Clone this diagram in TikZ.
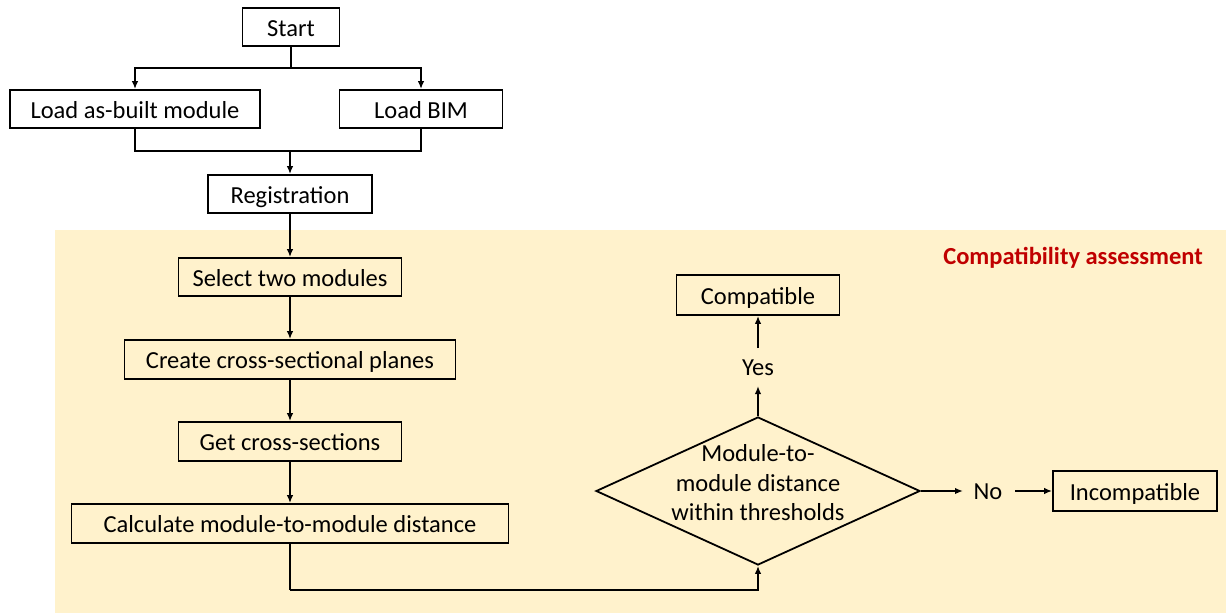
\documentclass[tikz,border=0pt]{standalone}
\usepackage{fontspec}
\setmainfont{Carlito}
\usetikzlibrary{shapes.geometric,arrows.meta}
\definecolor{bgbeige}{HTML}{FFF2CC}
\definecolor{titlered}{HTML}{C00000}
\tikzset{
  box/.style={draw=black,line width=1.8pt,fill=white,inner sep=0pt,font=\fontsize{24.5}{29}\selectfont,text height=20pt,text depth=2pt},
  boxb/.style={box,fill=bgbeige},
  conn/.style={line width=1.8pt,-{Latex[length=8pt,width=6.5pt]}},
  plain/.style={line width=1.8pt},
  lbl/.style={font=\fontsize{24.5}{29}\selectfont,inner sep=1pt}
}
\begin{document}
\begin{tikzpicture}[x=1pt,y=-1pt]
\useasboundingbox (0,0) rectangle (1226,613);
\fill[bgbeige] (55,230) rectangle (1226,613);
\node[titlered,font=\fontsize{24.5}{29}\selectfont\bfseries,anchor=east,inner sep=0pt] (title) at (1203,258) {Compatibility assessment};

\node[box,minimum width=97pt,minimum height=38pt] (start) at (291,27) {Start};
\node[box,minimum width=250pt,minimum height=38pt] (asbuilt) at (135,109) {Load as-built module};
\node[box,minimum width=163pt,minimum height=38pt] (bim) at (421,109) {Load BIM};
\node[box,minimum width=164pt,minimum height=38pt] (reg) at (290,194) {Registration};
\node[boxb,minimum width=223pt,minimum height=38pt] (select) at (290,277) {Select two modules};
\node[boxb,minimum width=331pt,minimum height=39pt] (create) at (290,359.5) {Create cross-sectional planes};
\node[boxb,minimum width=223pt,minimum height=39pt] (get) at (290,441.5) {Get cross-sections};
\node[boxb,minimum width=437pt,minimum height=39pt] (calc) at (290,523.5) {Calculate module-to-module distance};
\node[boxb,minimum width=163pt,minimum height=40pt] (compat) at (758,295) {Compatible};
\node[boxb,minimum width=164pt,minimum height=40pt] (incompat) at (1135,491) {Incompatible};
\node[draw=black,line width=1.8pt,diamond,inner sep=0pt,minimum width=324pt,minimum height=148pt] (dec) at (758,491) {};
\node[lbl,align=center,font=\fontsize{24.5}{29.5}\selectfont] (dectext) at (758,483) {Module-to-\\module distance\\within thresholds};
\node[lbl] (yes) at (758,368) {Yes};
\node[lbl] (no) at (988,492) {No};

\coordinate (split) at (291,68);
\coordinate (merge) at (290,151);
\coordinate (bend) at (290,590);

\draw[plain] (start.south) -- (split);
\draw[conn] (split) -| (asbuilt.north);
\draw[conn] (split) -| (bim.north);
\draw[plain] (asbuilt.south) |- (merge);
\draw[plain] (bim.south) |- (merge);
\draw[conn] (merge) -- (reg.north);
\draw[conn] (reg.south) -- (select.north);
\draw[conn] (select.south) -- (create.north);
\draw[conn] (create.south) -- (get.north);
\draw[conn] (get.south) -- (calc.north);
\draw[plain] (calc.south) -- (bend);
\draw[conn] (bend) -| (dec.south);
\draw[conn] (dec.north) -- (758,386);
\draw[conn] (758,348) -- (compat.south);
\draw[conn] (dec.east) -- (963,491);
\draw[conn] (1015,491) -- (incompat.west);
\end{tikzpicture}
\end{document}
